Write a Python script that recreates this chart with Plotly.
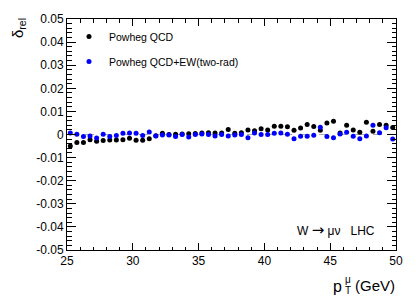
import plotly.graph_objects as go

# ---- data ----
pt_centers = [25.25 + 0.5 * i for i in range(50)]

qcd = [-0.0050, -0.0035, -0.0035, -0.0023, -0.0029, -0.0026, -0.0024, -0.0024, -0.0023, -0.0016,
       -0.0025, -0.0025, -0.0018, -0.0005, 0.0005, 0.0000, 0.0001, 0.0002, 0.0003, 0.0004,
       0.0006, 0.0008, 0.0006, 0.0006, 0.0022, 0.0005, 0.0008, 0.0020, 0.0016, 0.0025,
       0.0020, 0.0036, 0.0036, 0.0034, 0.0018, 0.0028, 0.0043, 0.0035, 0.0018, 0.0050,
       0.0057, 0.0006, 0.0040, 0.0020, 0.0010, 0.0053, 0.0014, 0.0043, 0.0040, 0.0030]

qcd_err = [0.0009, 0.0005, 0.0005, 0.0005, 0.0005, 0.0005, 0.0005, 0.0005, 0.0005, 0.0005,
           0.0005, 0.0005, 0.0005, 0.0005, 0.0005, 0.0005, 0.0005, 0.0005, 0.0005, 0.0005,
           0.0005, 0.0005, 0.0005, 0.0005, 0.0006, 0.0005, 0.0005, 0.0006, 0.0006, 0.0006,
           0.0006, 0.0006, 0.0006, 0.0006, 0.0006, 0.0006, 0.0007, 0.0007, 0.0007, 0.0007,
           0.0007, 0.0007, 0.0007, 0.0007, 0.0007, 0.0008, 0.0008, 0.0008, 0.0008, 0.0008]

qcd_ew = [0.0006, 0.0001, -0.0009, -0.0007, -0.0015, 0.0001, -0.0009, -0.0004, 0.0005, 0.0007,
          0.0005, -0.0004, 0.0011, -0.0006, -0.0002, -0.0002, -0.0009, 0.0000, -0.0011, 0.0000,
          0.0002, 0.0000, -0.0006, 0.0000, -0.0006, -0.0002, 0.0000, -0.0014, 0.0006, 0.0000,
          0.0000, 0.0005, 0.0006, 0.0001, -0.0018, -0.0008, -0.0008, -0.0003, 0.0031, -0.0009,
          -0.0014, 0.0002, 0.0010, -0.0008, -0.0018, -0.0006, 0.0040, 0.0008, 0.0029, -0.0020]

qcd_ew_err = [0.0006, 0.0005, 0.0005, 0.0005, 0.0005, 0.0005, 0.0005, 0.0005, 0.0005, 0.0005,
              0.0005, 0.0005, 0.0005, 0.0005, 0.0005, 0.0005, 0.0005, 0.0005, 0.0005, 0.0005,
              0.0005, 0.0005, 0.0005, 0.0005, 0.0006, 0.0005, 0.0005, 0.0006, 0.0006, 0.0006,
              0.0006, 0.0006, 0.0006, 0.0006, 0.0006, 0.0006, 0.0007, 0.0007, 0.0007, 0.0007,
              0.0007, 0.0007, 0.0007, 0.0007, 0.0007, 0.0008, 0.0008, 0.0008, 0.0008, 0.0008]

y_tickvals = [0.05, 0.04, 0.03, 0.02, 0.01, 0, -0.01, -0.02, -0.03, -0.04, -0.05]
y_ticktext = ["0.05", "0.04", "0.03", "0.02", "0.01", "0", "-0.01", "-0.02", "-0.03", "-0.04", "-0.05"]
x_tickvals = [25, 30, 35, 40, 45, 50]
x_ticktext = ["25", "30", "35", "40", "45", "50"]

FONT = "Liberation Sans, Arial, Helvetica, sans-serif"

fig = go.Figure()

fig.add_trace(go.Scatter(
    x=pt_centers, y=qcd, mode="markers", name="Powheg QCD",
    legendgroup="a",
    marker=dict(color="black", size=5),
    error_y=dict(type="data", array=qcd_err, color="rgba(0,0,0,0.35)", thickness=1, width=0),
))
fig.add_trace(go.Scatter(
    x=pt_centers, y=qcd_ew, mode="markers", name="Powheg QCD+EW(two-rad)",
    legendgroup="b",
    marker=dict(color="#0000ff", size=5),
    error_y=dict(type="data", array=qcd_ew_err, color="rgba(0,0,255,0.3)", thickness=1, width=0),
))

fig.add_shape(type="line", xref="x", yref="y", x0=25, x1=50, y0=0, y1=0,
              line=dict(color="#aaaaaa", width=1, dash="dash"), layer="below")

L, R, T, B = 67, 22, 15, 50
W, H = 418, 300
pw, ph = W - L - R, H - T - B

def px(x):
    return (x - L) / pw

def py(y):
    return (H - B - y) / ph

axis_common = dict(
    showline=True, linecolor="black", linewidth=1, mirror="ticks",
    ticks="inside", tickcolor="black", tickwidth=1,
    showgrid=False, zeroline=False,
    tickfont=dict(family=FONT, size=12, color="black"),
)

fig.update_xaxes(range=[25, 50], tickmode="array", tickvals=x_tickvals, ticktext=x_ticktext,
                 ticklen=7, minor=dict(ticks="inside", dtick=1, ticklen=3.5, tickcolor="black", tickwidth=1),
                 **axis_common)
fig.update_yaxes(range=[-0.05, 0.05], tickmode="array", tickvals=y_tickvals, ticktext=y_ticktext,
                 ticklen=9, minor=dict(ticks="inside", dtick=0.002, tick0=0, ticklen=4.5, tickcolor="black", tickwidth=1),
                 **axis_common)

annotations = [
    dict(text="δ<sub>rel</sub>", textangle=-90, x=px(18), y=py(12), xanchor="center", yanchor="top",
         font=dict(family=FONT, size=15, color="black")),
    dict(text="p", x=px(344), y=py(287), xanchor="right", yanchor="middle",
         font=dict(family=FONT, size=16, color="black")),
    dict(text="μ", x=px(347.5), y=py(280), xanchor="center", yanchor="middle",
         font=dict(family=FONT, size=10, color="black")),
    dict(text="T", x=px(347.5), y=py(291), xanchor="center", yanchor="middle",
         font=dict(family=FONT, size=10, color="black")),
    dict(text="(GeV)", x=px(397), y=py(286), xanchor="right", yanchor="middle",
         font=dict(family=FONT, size=15, color="black")),
    dict(text="W <span style='font-family:DejaVu Sans;font-size:15px'>→</span> μν   LHC", x=px(377), y=py(230),
         xanchor="right", yanchor="middle",
         font=dict(family=FONT, size=12, color="black")),
]
for a in annotations:
    a.update(xref="paper", yref="paper", showarrow=False)

fig.update_layout(
    width=W, height=H,
    margin=dict(l=L, r=R, t=T, b=B),
    plot_bgcolor="white", paper_bgcolor="white",
    annotations=annotations,
    showlegend=True,
    legend=dict(x=px(69), y=py(18), xanchor="left", yanchor="top",
                bgcolor="rgba(0,0,0,0)", borderwidth=0,
                font=dict(family=FONT, size=10.5, color="black"),
                traceorder="grouped", tracegroupgap=6),
)

fig.write_html("out.html", config={"displayModeBar": False},
               post_script="document.body.style.margin='0';")
